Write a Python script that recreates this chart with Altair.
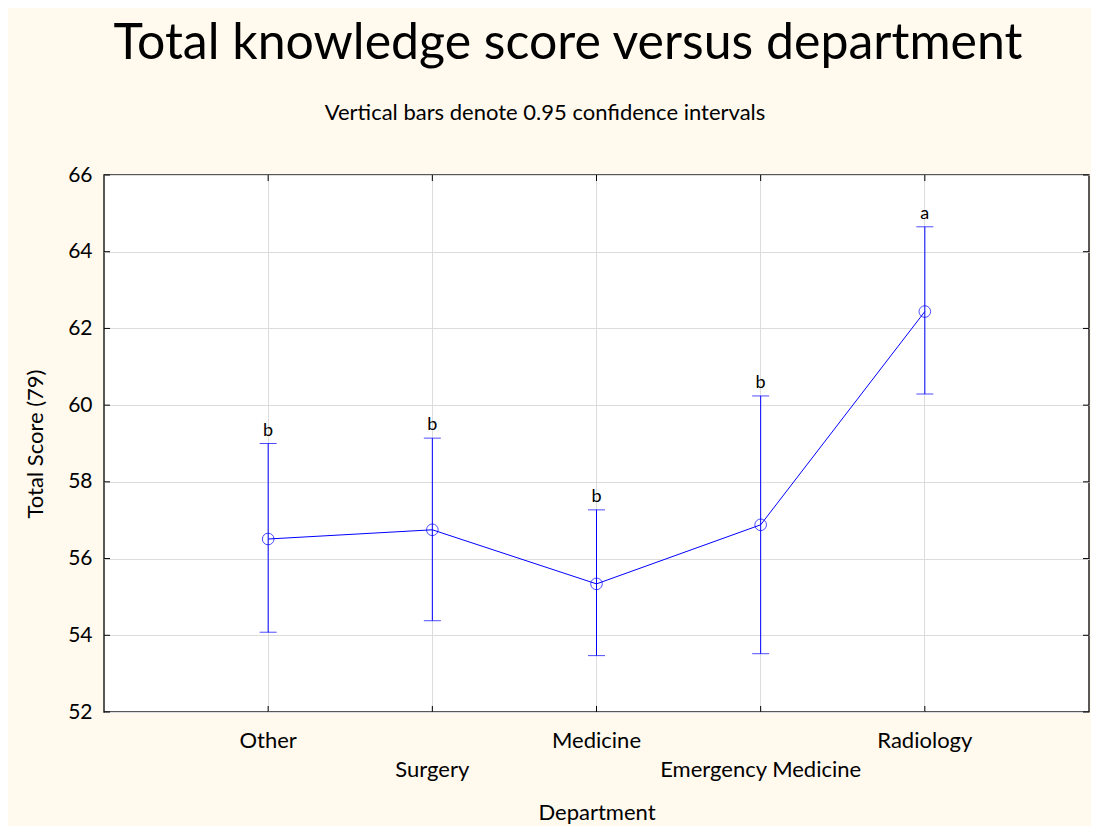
import altair as alt
import pandas as pd

categories = ["Other", "Surgery", "Medicine", "Emergency Medicine", "Radiology"]
means = [56.51, 56.75, 55.34, 56.88, 62.44]
lower = [54.08, 54.38, 53.47, 53.52, 60.29]
upper = [59.00, 59.14, 57.27, 60.24, 64.65]
letters = ["b", "b", "b", "b", "a"]
y_ticks = [52, 54, 56, 58, 60, 62, 64, 66]
title_text = ["Total knowledge score versus department"]
subtitle_text = ["Vertical bars denote 0.95 confidence intervals"]

W, H = 985, 537
FONT = "Lato"
BLUE = "#0000ff"
BG = "#fff9ee"

df = pd.DataFrame({"dept": categories, "mean": means, "lo": lower, "hi": upper, "letter": letters})
ticks_df = pd.DataFrame({"v": y_ticks})
title_df = pd.DataFrame({"t": title_text})
sub_df = pd.DataFrame({"t": subtitle_text})
row1 = categories[::2]
row2 = categories[1::2]

xscale = alt.Scale(domain=categories, padding=1)
yscale = alt.Scale(domain=[52, 66], nice=False, zero=False)

x_enc = alt.X("dept:N", scale=xscale, sort=categories,
              axis=alt.Axis(title="Department", labels=False, ticks=False, domain=False,
                            grid=True, gridColor="#dcdcdc", titleFont=FONT, titleFontSize=22,
                            titleFontWeight="normal", titleColor="#000", titlePadding=90))
y_enc = alt.Y("mean:Q", scale=yscale,
              axis=alt.Axis(title="Total Score (79)", values=y_ticks, ticks=False, domain=False,
                            grid=True, gridColor="#dcdcdc", labelFont=FONT, labelFontSize=21,
                            labelColor="#000", labelPadding=12, titleFont=FONT, titleFontSize=22,
                            titleFontWeight="normal", titleColor="#000", titlePadding=20))

base = alt.Chart(df)

line = base.mark_line(color=BLUE, strokeWidth=1).encode(x=x_enc, y=y_enc)
rules = base.mark_rule(color=BLUE, strokeWidth=1).encode(
    x=alt.X("dept:N", scale=xscale, sort=categories),
    y=alt.Y("lo:Q", scale=yscale), y2="hi:Q")
cap_lo = base.mark_tick(color=BLUE, orient="horizontal", size=17, thickness=1).encode(
    x=alt.X("dept:N", scale=xscale, sort=categories), y=alt.Y("lo:Q", scale=yscale))
cap_hi = base.mark_tick(color=BLUE, orient="horizontal", size=17, thickness=1).encode(
    x=alt.X("dept:N", scale=xscale, sort=categories), y=alt.Y("hi:Q", scale=yscale))
pts = base.mark_point(shape="circle", filled=False, color=BLUE, size=135, strokeWidth=1).encode(
    x=alt.X("dept:N", scale=xscale, sort=categories), y=alt.Y("mean:Q", scale=yscale))
lett = base.mark_text(font=FONT, fontSize=18, color="#000", baseline="bottom", dy=-4).encode(
    x=alt.X("dept:N", scale=xscale, sort=categories), y=alt.Y("hi:Q", scale=yscale), text="letter:N")

lab1 = base.transform_filter(alt.FieldOneOfPredicate(field="dept", oneOf=row1)).mark_text(
    font=FONT, fontSize=22, color="#000", baseline="middle").encode(
    x=alt.X("dept:N", scale=xscale, sort=categories), y=alt.value(H + 29), text="dept:N")
lab2 = base.transform_filter(alt.FieldOneOfPredicate(field="dept", oneOf=row2)).mark_text(
    font=FONT, fontSize=22, color="#000", baseline="middle").encode(
    x=alt.X("dept:N", scale=xscale, sort=categories), y=alt.value(H + 58), text="dept:N")

ttl = alt.Chart(title_df).mark_text(font=FONT, fontSize=50, color="#000", baseline="middle",
                                    align="center").encode(
    x=alt.value(464), y=alt.value(-131), text="t:N")
sub = alt.Chart(sub_df).mark_text(font=FONT, fontSize=22, color="#000", baseline="middle",
                                  align="center").encode(
    x=alt.value(441), y=alt.value(-62), text="t:N")

tk = alt.Chart(ticks_df)
tick_l = tk.mark_rule(color="#000", strokeWidth=1).encode(
    y=alt.Y("v:Q", scale=yscale), x=alt.value(0), x2=alt.value(6))
tick_r = tk.mark_rule(color="#000", strokeWidth=1).encode(
    y=alt.Y("v:Q", scale=yscale), x=alt.value(W - 6), x2=alt.value(W))
tick_t = base.mark_rule(color="#000", strokeWidth=1).encode(
    x=alt.X("dept:N", scale=xscale, sort=categories), y=alt.value(0), y2=alt.value(6))
tick_b = base.mark_rule(color="#000", strokeWidth=1).encode(
    x=alt.X("dept:N", scale=xscale, sort=categories), y=alt.value(H - 6), y2=alt.value(H))

chart = alt.layer(line, rules, cap_lo, cap_hi, pts, lett, lab1, lab2, ttl, sub,
                  tick_l, tick_r, tick_t, tick_b).properties(
    width=W, height=H,
    background=BG,
    padding={"left": 96, "top": 167, "right": 2, "bottom": 114},
    autosize=alt.AutoSizeParams(type="none"),
).configure_view(stroke="#222", strokeWidth=1.5, fill="#ffffff")

chart.save("out.html", embed_options={"renderer": "svg", "actions": False})
